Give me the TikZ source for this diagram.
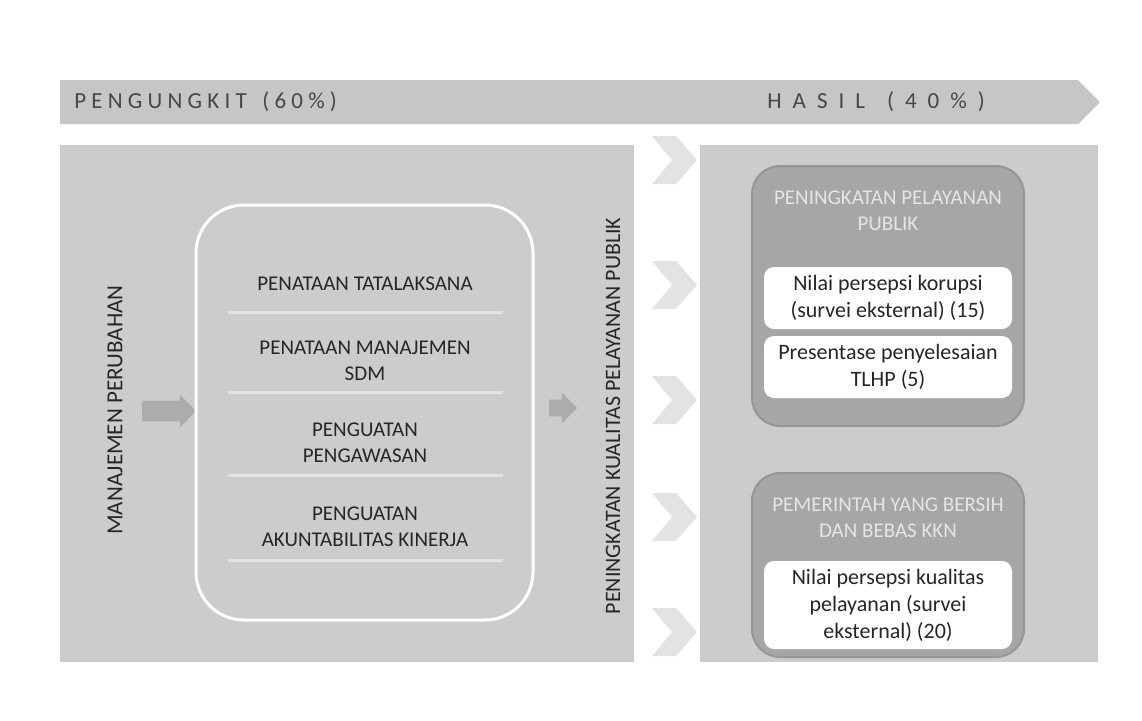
\documentclass[tikz,border=0pt]{standalone}
\usepackage{fontspec}
\setmainfont{Carlito}
\usetikzlibrary{shapes.arrows}
\newcommand\lgap{\hspace{5.5pt}}

\begin{document}
\begin{tikzpicture}[x=0.5pt,y=-0.5pt]
    \tikzstyle{every node}=[inner sep=1pt,align=center,font=\fontsize{10.5}{13}\selectfont]
    \tikzstyle{head}=[anchor=west,text=black!72,font=\fontsize{11.5}{13}\selectfont]
    \tikzstyle{item}=[text=black!85]
    \tikzstyle{sep}=[gray!22,line width=1.5pt]
    \tikzstyle{darkbox}=[fill=gray!70,draw=gray!82,line width=1pt,rounded corners=14pt]
    \tikzstyle{title}=[text=white!80!gray]
    \tikzstyle{whitebox}=[fill=white,rounded corners=5pt,minimum width=124pt,text=black!85,font=\fontsize{11}{13.5}\selectfont]
    \tikzstyle{blockarrow}=[single arrow,fill=gray!65,inner sep=0pt]
    \useasboundingbox (0,0) rectangle (1142,720);
    %%%%% band on top
    \fill[gray!45] (60,80) -- (1078,80) -- (1100,102) -- (1078,124) -- (60,124) -- cycle;
    \draw (72,102) node[head] (1) {P E N G U N G K I T \ \ ( 6 0 \% )};
    \draw (765,102) node[head] (2) {H\lgap A\lgap S\lgap I\lgap L\lgap\lgap (\lgap 4\lgap 0\lgap \%\lgap )};
    %%%%% panels
    \fill[gray!40] (60,145) rectangle (634,662);
    \fill[gray!40] (700,145) rectangle (1098,662);
    \foreach \y in {160,285,400,517,632}
        \fill[gray!22] (652,\y-24) -- (676,\y-24) -- (697,\y) -- (676,\y+24) -- (652,\y+24) -- (672,\y) -- cycle;
    %%%%% left part
    \draw (115,410) node[rotate=90,item,font=\fontsize{11.5}{13}\selectfont] (3) {MANAJEMEN PERUBAHAN};
    \draw (164,411) node[blockarrow,inner ysep=5pt,single arrow head extend=3pt,minimum height=27pt] (4) {};
    \draw[white,line width=1.5pt,rounded corners=24pt] (196,205) rectangle (533,620);
    \draw (365,284) node[item] (5) {PENATAAN TATALAKSANA};
    \draw (365,361) node[item] (6) {PENATAAN MANAJEMEN\\SDM};
    \draw (365,443) node[item] (7) {PENGUATAN\\PENGAWASAN};
    \draw (365,527) node[item] (8) {PENGUATAN\\AKUNTABILITAS KINERJA};
    \foreach \y in {312,392,475,560}
        \draw[sep] (228,\y) -- (503,\y);
    \draw (559,408) node[blockarrow,inner ysep=4pt,single arrow head extend=3.5pt,minimum height=14pt] (9) {};
    \draw (613,416) node[rotate=90,item,font=\fontsize{11}{13}\selectfont] (10) {PENINGKATAN KUALITAS PELAYANAN PUBLIK};
    %%%%% right part
    \draw[darkbox] (752,166) rectangle (1024,426);
    \draw (888,211) node[title] (11) {PENINGKATAN PELAYANAN\\PUBLIK};
    \draw (888,298) node[whitebox,minimum height=31pt] (12) {Nilai persepsi korupsi\\(survei eksternal) (15)};
    \draw (888,367) node[whitebox,minimum height=31pt] (13) {Presentase penyelesaian\\TLHP (5)};
    \draw[darkbox] (752,473) rectangle (1024,657);
    \draw (888,518) node[title] (14) {PEMERINTAH YANG BERSIH\\DAN BEBAS KKN};
    \draw (888,605) node[whitebox,minimum height=44pt] (15) {Nilai persepsi kualitas\\pelayanan (survei\\eksternal) (20)};
\end{tikzpicture}
\end{document}
